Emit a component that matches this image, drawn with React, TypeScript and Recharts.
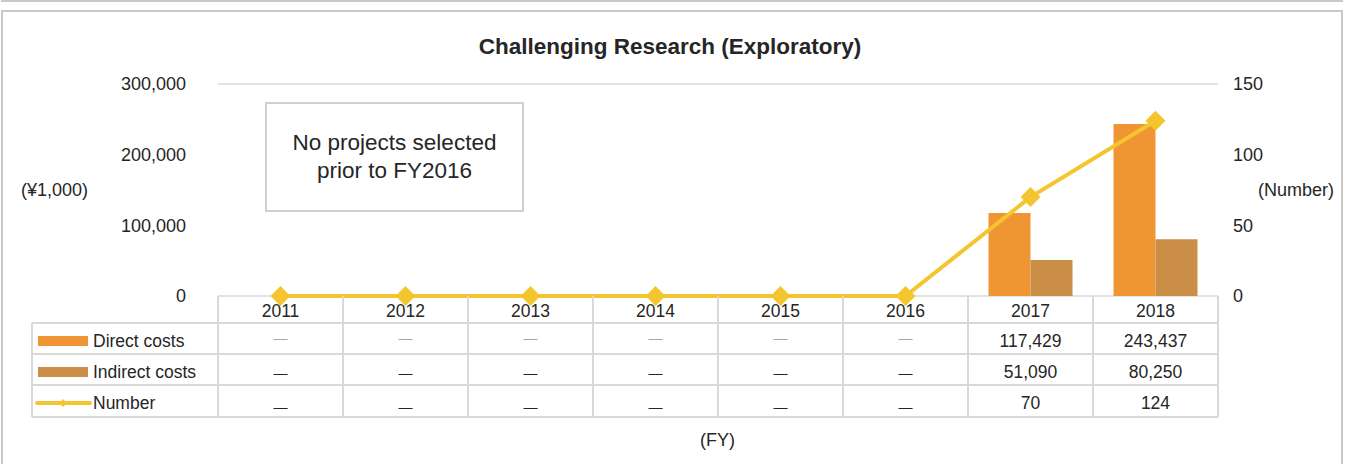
import React from "react";
import { ComposedChart, Bar, Line, XAxis, YAxis, CartesianGrid } from "recharts";

const years = ["2011", "2012", "2013", "2014", "2015", "2016", "2017", "2018"];
const directCosts = [null, null, null, null, null, null, 117429, 243437];
const indirectCosts = [null, null, null, null, null, null, 51090, 80250];
const projectCount = [0, 0, 0, 0, 0, 0, 70, 124];
const leftTicks = [0, 100000, 200000, 300000];
const rightTicks = [0, 50, 100, 150];

const data = years.map((year, i) => ({
  year,
  direct: directCosts[i],
  indirect: indirectCosts[i],
  count: projectCount[i],
}));

const FONT = "'Liberation Sans', Arial, sans-serif";
const DIRECT = "#EF9533";
const INDIRECT = "#CB8E47";
const LINE = "#F5C530";
const BORDER = "#D9D9D9";
const TEXT = "#262626";
const COL_W = 125;
const FS = 17.5;

const fmt = (v: number | null) => (v == null || v === 0 ? null : v.toLocaleString("en-US"));

function Diamond(props: any) {
  const { cx, cy } = props;
  if (cx == null || cy == null) return null;
  const s = 10;
  return <polygon points={`${cx},${cy - s} ${cx + s},${cy} ${cx},${cy + s} ${cx - s},${cy}`} fill={LINE} />;
}

function Dash({ x, y, light }: { x: number; y: number; light?: boolean }) {
  return (
    <text x={x} y={y} textAnchor="middle" dominantBaseline="central" fontSize={14} fill={light ? "#A6A6A6" : TEXT} fontFamily={FONT}>
      —
    </text>
  );
}

function Cell({ x, y, children }: { x: number; y: number; children: React.ReactNode }) {
  return (
    <text x={x} y={y} textAnchor="middle" dominantBaseline="central" fontSize={FS} fill={TEXT} fontFamily={FONT}>
      {children}
    </text>
  );
}

// Each x-axis tick draws its own column of the data table
function TableTick(props: any) {
  const { x, y, payload, index } = props;
  const i = payload.index ?? index;
  const half = COL_W / 2;
  const rowY = [y, y + 27, y + 58, y + 89, y + 121];
  const l = x - half;
  const r = x + half;
  const d = fmt(directCosts[i]);
  const ind = fmt(indirectCosts[i]);
  const n = fmt(projectCount[i]);
  const legendL = 32;
  const legendText = { dominantBaseline: "central" as const, fontSize: FS, fill: TEXT, fontFamily: FONT };
  return (
    <g>
      {rowY.slice(1).map((ry) => (
        <line key={ry} x1={l} x2={r} y1={ry} y2={ry} stroke={BORDER} strokeWidth={2} />
      ))}
      <line x1={l} x2={l} y1={y} y2={rowY[4]} stroke={BORDER} strokeWidth={2} />
      <line x1={r} x2={r} y1={y} y2={rowY[4]} stroke={BORDER} strokeWidth={2} />
      <Cell x={x} y={y + 15}>{payload.value}</Cell>
      {d ? <Cell x={x} y={y + 45}>{d}</Cell> : <Dash x={x} y={y + 42} light />}
      {ind ? <Cell x={x} y={y + 76}>{ind}</Cell> : <Dash x={x} y={y + 77} />}
      {n ? <Cell x={x} y={y + 107}>{n}</Cell> : <Dash x={x} y={y + 111} />}
      {i === 0 && (
        <g>
          {rowY.slice(1).map((ry) => (
            <line key={ry} x1={legendL} x2={l} y1={ry} y2={ry} stroke={BORDER} strokeWidth={2} />
          ))}
          <line x1={legendL} x2={legendL} y1={rowY[1]} y2={rowY[4]} stroke={BORDER} strokeWidth={2} />
          <rect x={38} y={y + 40} width={50} height={10} fill={DIRECT} />
          <text x={93} y={y + 45} {...legendText}>Direct costs</text>
          <rect x={38} y={y + 71} width={50} height={10} fill={INDIRECT} />
          <text x={93} y={y + 76} {...legendText}>Indirect costs</text>
          <line x1={37} x2={90} y1={y + 107} y2={y + 107} stroke={LINE} strokeWidth={4} strokeLinecap="round" />
          <polygon points={`63,${y + 103} 67,${y + 107} 63,${y + 111} 59,${y + 107}`} fill={LINE} />
          <text x={93} y={y + 107} {...legendText}>Number</text>
        </g>
      )}
    </g>
  );
}

export default function App() {
  const label: React.CSSProperties = { position: "absolute", fontFamily: FONT, fontSize: 18, color: TEXT, lineHeight: "20px" };
  return (
    <div style={{ position: "absolute", left: 0, top: 0, width: 1347, height: 464, overflow: "hidden", background: "#fff" }}>
      <div style={{ position: "absolute", left: 1, top: -20, width: 1342, height: 22, border: "2px solid #C8C8C8", boxSizing: "border-box" }} />
      <div style={{ position: "absolute", left: 1, top: 10, width: 1342, height: 480, border: "2px solid #C8C8C8", boxSizing: "border-box" }} />
      <ComposedChart
        width={1347}
        height={464}
        data={data}
        margin={{ top: 84, right: 69, bottom: 141, left: 158 }}
        barCategoryGap="16.4%"
        barGap={0}
        style={{ position: "absolute", left: 0, top: 0 }}
      >
        <CartesianGrid vertical={false} stroke={BORDER} strokeWidth={1.5} />
        <XAxis dataKey="year" height={27} axisLine={false} tickLine={false} tickSize={0} tickMargin={0} interval={0} tick={<TableTick />} />
        <YAxis
          yAxisId="left"
          width={60}
          domain={[0, 300000]}
          ticks={leftTicks}
          axisLine={false}
          tickLine={false}
          tickSize={0}
          tickMargin={32}
          tickFormatter={(v: number) => v.toLocaleString("en-US")}
          tick={{ fontSize: 18, fill: TEXT, fontFamily: FONT }}
        />
        <YAxis
          yAxisId="right"
          orientation="right"
          width={60}
          domain={[0, 150]}
          ticks={rightTicks}
          axisLine={false}
          tickLine={false}
          tickSize={0}
          tickMargin={15}
          tick={{ fontSize: 18, fill: TEXT, fontFamily: FONT, textAnchor: "start" }}
        />
        <Bar yAxisId="left" dataKey="direct" fill={DIRECT} isAnimationActive={false} />
        <Bar yAxisId="left" dataKey="indirect" fill={INDIRECT} isAnimationActive={false} />
        <Line
          yAxisId="right"
          dataKey="count"
          stroke={LINE}
          strokeWidth={4}
          type="linear"
          dot={<Diamond />}
          activeDot={false}
          isAnimationActive={false}
        />
      </ComposedChart>
      <div style={{ position: "absolute", left: 0, top: 33, width: 1340, textAlign: "center", fontFamily: FONT, fontSize: 22.5, fontWeight: "bold", color: TEXT, lineHeight: "28px" }}>
        Challenging Research (Exploratory)
      </div>
      <div style={{ ...label, left: 21, top: 180 }}>(¥1,000)</div>
      <div style={{ ...label, left: 1258, top: 180 }}>(Number)</div>
      <div style={{ ...label, left: 700, top: 430 }}>(FY)</div>
      <div
        style={{
          position: "absolute",
          left: 265,
          top: 102,
          width: 259,
          height: 110,
          boxSizing: "border-box",
          border: "2px solid #D0D0D0",
          background: "#fff",
          display: "flex",
          alignItems: "center",
          justifyContent: "center",
          textAlign: "center",
          fontFamily: FONT,
          fontSize: 22.5,
          lineHeight: "28px",
          color: TEXT,
        }}
      >
        No projects selected
        <br />
        prior to FY2016
      </div>
    </div>
  );
}
